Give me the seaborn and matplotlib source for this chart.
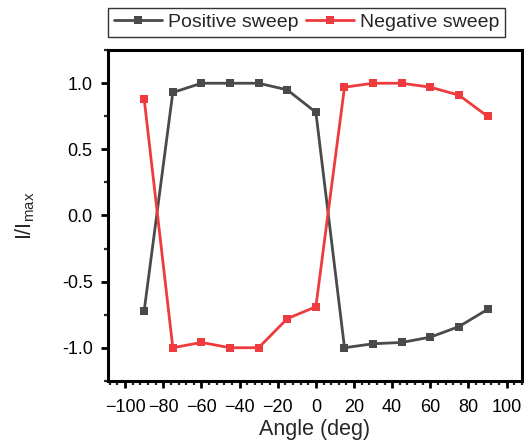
import pandas as pd
import matplotlib.pyplot as plt
from matplotlib.ticker import MultipleLocator
import seaborn as sns

angles = [-90, -75, -60, -45, -30, -15, 0, 15, 30, 45, 60, 75, 90]
positive_sweep = [-0.72, 0.93, 1.0, 1.0, 1.0, 0.95, 0.78, -1.0, -0.97, -0.96, -0.92, -0.84, -0.71]
negative_sweep = [0.88, -1.0, -0.96, -1.0, -1.0, -0.78, -0.69, 0.97, 1.0, 1.0, 0.97, 0.91, 0.75]
series_names = ["Positive sweep", "Negative sweep"]
colors = ["#4a4a4a", "#ef3b3d"]


def main():
    df = pd.concat([
        pd.DataFrame({"Angle": angles, "I": positive_sweep, "sweep": series_names[0]}),
        pd.DataFrame({"Angle": angles, "I": negative_sweep, "sweep": series_names[1]}),
    ])

    sns.set_style("ticks")
    plt.rcParams["font.family"] = ["Liberation Sans", "DejaVu Sans"]

    fig = plt.figure(figsize=(5.24, 4.48), dpi=100)
    ax = fig.add_axes([0.206, 0.150, 0.790, 0.738])

    sns.lineplot(
        data=df, x="Angle", y="I", hue="sweep", style="sweep",
        palette=colors, markers=["s", "s"], dashes=False,
        linewidth=2.0, markersize=6, markeredgewidth=0, ax=ax,
    )

    ax.set_xlim(-109, 108)
    ax.set_ylim(-1.25, 1.25)
    ax.xaxis.set_major_locator(MultipleLocator(20))
    ax.xaxis.set_minor_locator(MultipleLocator(4))
    ax.yaxis.set_major_locator(MultipleLocator(0.5))
    ax.yaxis.set_minor_locator(MultipleLocator(0.25))
    ax.yaxis.set_major_formatter(plt.FormatStrFormatter("%.1f"))

    for s in ax.spines.values():
        s.set_linewidth(2.2)
        s.set_color("black")
    ax.tick_params(which="major", direction="out", length=5, width=2.0, labelsize=13,
                   colors="black", pad=6)
    ax.tick_params(axis="x", which="major", pad=8)
    ax.tick_params(which="minor", direction="out", length=3, width=1.6)

    ax.set_xlabel("Angle (deg)", fontsize=15.5, labelpad=2)
    ax.set_ylabel(r"I/I$_{\mathregular{max}}$", fontsize=15.5, labelpad=18)

    handles, labels = ax.get_legend_handles_labels()
    leg = ax.legend(
        handles, labels, ncol=2, loc="lower center", bbox_to_anchor=(0.48, 1.04),
        frameon=True, fancybox=False, fontsize=14, handlelength=2.5,
        handletextpad=0.3, columnspacing=0.35, borderpad=0.3, borderaxespad=0,
    )
    leg.get_frame().set_edgecolor("black")
    leg.get_frame().set_linewidth(1.0)

    fig.savefig("out.png", dpi=100)


if __name__ == '__main__':
    main()
